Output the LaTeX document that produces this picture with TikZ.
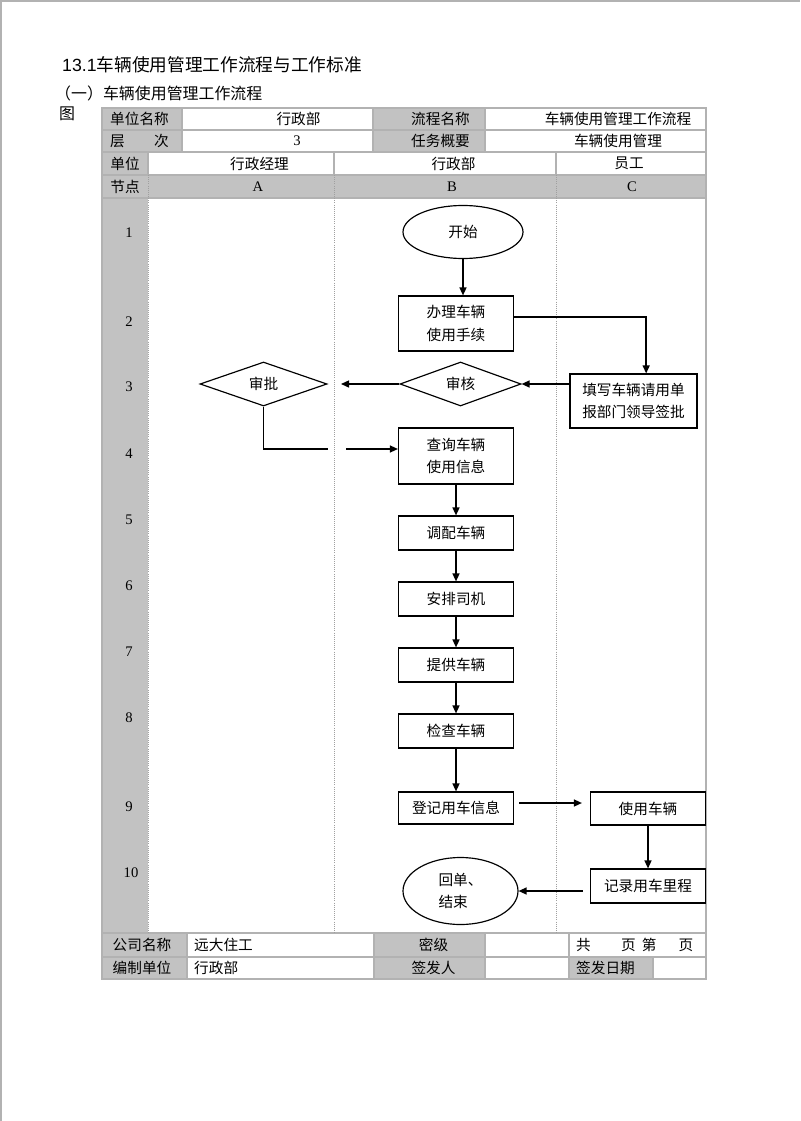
\documentclass[tikz,border=0pt]{standalone}
\usepackage{fontspec}
\setmainfont{Liberation Serif}
\newfontfamily\cjkfont{Noto Sans CJK SC}
\newfontfamily\titlesans{Liberation Sans}
\usetikzlibrary{positioning,arrows.meta,shapes.geometric}

\begin{document}
\begin{tikzpicture}[x=0.3mm, y=-0.3mm,
  grid/.style={draw=gray!60, line width=0.9pt},
  lane/.style={draw=gray!75, line width=0.8pt, densely dotted},
  shade/.style={fill=black!24},
  cell/.style={font=\cjkfont\fontsize{12.5}{15}\selectfont, inner sep=0pt},
  rownum/.style={font=\fontsize{12.5}{15}\selectfont, inner sep=0pt},
  procbox/.style={draw, line width=1pt, minimum width=34.5mm, minimum height=10.2mm,
    inner sep=0pt, align=center, font=\cjkfont\fontsize{12.5}{19.5}\selectfont},
  tallbox/.style={procbox, minimum height=16.5mm},
  decision/.style={diamond, draw, line width=1pt, inner sep=0pt, minimum height=13.2mm,
    font=\cjkfont\fontsize{12.5}{15}\selectfont},
  terminal/.style={ellipse, draw, line width=1pt, inner sep=0pt, align=left,
    font=\cjkfont\fontsize{12.5}{19.5}\selectfont},
  arr/.style={-{Triangle[length=2.4mm,width=2.1mm]}, line width=1.2pt},
  link/.style={line width=1.2pt}]

\useasboundingbox (0,0) rectangle (800,1121);
\draw[gray!60, line width=0.5mm] (0,1) -- (800,1);
\draw[gray!60, line width=0.5mm] (1,0) -- (1,1121);

\node[anchor=west, inner sep=0pt] (title) at (62,65)
  {\fontsize{15.1}{18}\selectfont\titlesans 13.1\cjkfont 车辆使用管理工作流程与工作标准};
\node[anchor=west, inner sep=0pt] (subtitle) at (55,93)
  {\cjkfont\fontsize{13.6}{16}\selectfont （一）车辆使用管理工作流程};
\node[anchor=west, inner sep=0pt] (figword) at (59,114)
  {\cjkfont\fontsize{13.6}{16}\selectfont 图};

\fill[shade] (102,108) rectangle (182,152);
\fill[shade] (373,108) rectangle (485,152);
\fill[shade] (102,152) rectangle (148,933);
\fill[shade] (102,175) rectangle (706,198);
\fill[shade] (102,933) rectangle (187,979);
\fill[shade] (374,933) rectangle (485,979);
\fill[shade] (569,957) rectangle (653,979);

\draw[grid] (102,108) rectangle (706,979);
\foreach \y in {130,152,175,198,933,957}
  \draw[grid] (102,\y) -- (706,\y);
\foreach \x in {182,373,485}
  \draw[grid] (\x,108) -- (\x,152);
\foreach \x in {148,334,556}
  \draw[grid] (\x,152) -- (\x,175);
\foreach \x in {148,334,556}
  \draw[lane] (\x,175) -- (\x,933);
\foreach \x in {187,374,485,569}
  \draw[grid] (\x,933) -- (\x,979);
\draw[grid] (653,957) -- (653,979);

\node[cell] (unitname) at (139.5,119) {单位名称};
\node[cell] (unitval) at (298.5,119) {行政部};
\node[cell] (procname) at (440.5,119) {流程名称};
\node[cell] (procval) at (618,119) {车辆使用管理工作流程};
\node[cell] (level) at (139.5,141) {层\hspace{2em}次};
\node[rownum] (levelval) at (297,141) {3};
\node[cell] (task) at (440.5,141) {任务概要};
\node[cell] (taskval) at (618,141) {车辆使用管理};

\node[cell] (unit) at (125,163.5) {单位};
\node[cell] (laneA) at (259.5,163.5) {行政经理};
\node[cell] (laneB) at (453.5,163.5) {行政部};
\node[cell] (laneC) at (629,163.5) {员工};
\node[cell] (nodehd) at (125,186.5) {节点};
\node[rownum] (colA) at (258,186.5) {A};
\node[rownum] (colB) at (452,186.5) {B};
\node[rownum] (colC) at (632,186.5) {C};

\foreach \n/\y in {1/233,2/322,3/387,4/454,5/520,6/586,7/652,8/718,9/807}
  \node[rownum] (step\n) at (129,\y) {\n};
\node[rownum] (step10) at (131,873) {10};

\node[cell] (company) at (142,945) {公司名称};
\node[cell, anchor=west] (companyval) at (194,945) {远大住工};
\node[cell] (secret) at (433.5,945) {密级};
\node[cell, anchor=west] (pages) at (576,945)
  {共\hspace{2.06em}页\hspace{0.43em}第\hspace{1.5em}页};
\node[cell] (editor) at (142,968) {编制单位};
\node[cell, anchor=west] (editorval) at (194,968) {行政部};
\node[cell] (issuer) at (433.5,968) {签发人};
\node[cell, anchor=west] (issuedate) at (576,968) {签发日期};

\node[terminal, minimum width=36mm, minimum height=15.9mm] (start) at (463,232) {开始};
\node[tallbox] (handle) at (456,323.5) {办理车辆\\使用手续};
\node[tallbox, minimum width=38.1mm, minimum height=16.2mm] (fill) at (633.5,401)
  {填写车辆请用单\\报部门领导签批};
\node[decision, minimum width=36.3mm] (check) at (460.5,384) {审核};
\node[decision, minimum width=38.1mm] (approve) at (263.5,384) {审批};
\node[tallbox, minimum height=16.8mm] (query) at (456,456) {查询车辆\\使用信息};
\node[procbox] (assign) at (456,533) {调配车辆};
\node[procbox] (arrange) at (456,599) {安排司机};
\node[procbox] (provide) at (456,665) {提供车辆};
\node[procbox] (inspect) at (456,731) {检查车辆};
\node[procbox, minimum height=9.6mm] (record) at (456,808) {登记用车信息};
\node[procbox, minimum height=9.9mm] (use) at (648,808.5) {使用车辆};
\node[procbox] (mileage) at (648,886) {记录用车里程};
\node[terminal, minimum width=34.5mm, minimum height=20.1mm] (finish) at (460.5,891)
  {回单、\\结束};

\coordinate (toA) at (341,384);
\coordinate (gapL) at (328,449);
\coordinate (gapR) at (346,449);

\draw[arr] (start) -- (start |- handle.north);
\draw[arr] ([yshift=1.9mm]handle.east) -| ([xshift=3.8mm]fill.north);
\draw[arr] (fill.west |- check) -- (check.east);
\draw[arr] (check.west) -- (toA);
\draw[link] (approve.south) |- (gapL);
\draw[arr] (gapR) -- (gapR -| query.west);
\draw[arr] (query) -- (assign);
\draw[arr] (assign) -- (arrange);
\draw[arr] (arrange) -- (provide);
\draw[arr] (provide) -- (inspect);
\draw[arr] (inspect) -- (record);
\draw[arr, shorten <=1.5mm, shorten >=2.4mm] ([yshift=1.5mm]record.east) -- ([yshift=1.5mm]record.east -| use.west);
\draw[arr] (use) -- (mileage);
\draw[arr, shorten <=2.1mm] (mileage.west |- finish) -- (finish.east);

\end{tikzpicture}
\end{document}
